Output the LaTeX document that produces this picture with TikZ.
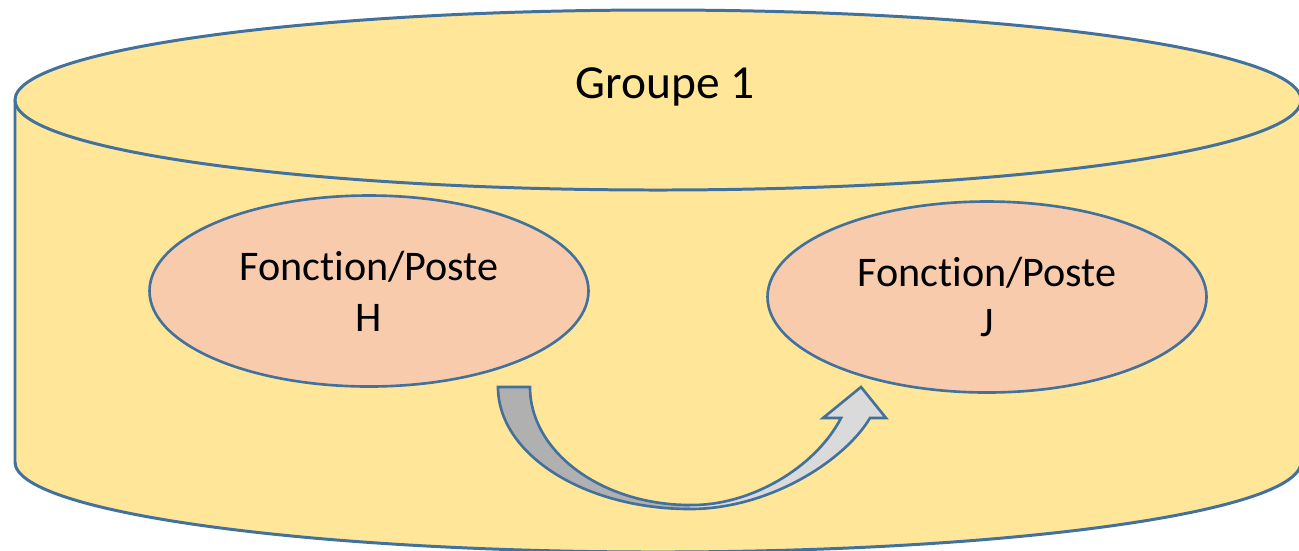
\documentclass[tikz,border=0pt]{standalone}
\usepackage{fontspec}
\setmainfont{Carlito}[Ligatures=NoCommon]
\usetikzlibrary{shapes.geometric, positioning}
\definecolor{grpfill}{HTML}{FFE699}
\definecolor{grpline}{HTML}{41719C}
\definecolor{postefill}{HTML}{F8CBAD}
\definecolor{arrowdark}{HTML}{B0B0B0}
\definecolor{arrowlight}{HTML}{DADADA}

\begin{document}
\begin{tikzpicture}[x=0.1mm, y=-0.1mm,
  poste/.style={ellipse, draw=grpline, line width=0.75pt, fill=postefill,
    inner sep=0pt, minimum width=43.9mm, minimum height=19.1mm, align=center,
    font=\fontsize{12}{14.5}\selectfont}]
  \useasboundingbox (0,0) rectangle (1299,550);
  \clip (0,0) rectangle (1299,550);

  % Cylinder body
  \fill[grpfill] (15,100) -- (15,462)
    arc[start angle=180, end angle=0, x radius=643, y radius=90]
    -- (1301,100)
    arc[start angle=0, end angle=-180, x radius=643, y radius=90] -- cycle;
  \draw[grpline, line width=0.85pt] (15,100) -- (15,462)
    arc[start angle=180, end angle=0, x radius=643, y radius=90]
    -- (1301,100);
  \draw[grpline, line width=0.85pt] (658,100) ellipse[x radius=643, y radius=90];
  \node[font=\fontsize{13.5}{16}\selectfont, anchor=base] (groupe) at (665,98) {Groupe 1};

  % Posts
  \node[poste] (posteH) at (369,291) {Fonction/Poste\\H};
  \node[poste] (posteJ) at (987,297) {Fonction/Poste\\J};

  % Curved arrow from H to J
  \fill[arrowdark] (498,387) -- (530,387)
    .. controls (530,452) and (602,505) .. (690,505)
    -- (690,509)
    .. controls (584,509) and (498,454) .. (498,387) -- cycle;
  \fill[arrowlight] (690,505)
    .. controls (750,506) and (815,468) .. (841,418)
    -- (823,418) -- (861,387) -- (886,418) -- (870,418)
    .. controls (845,460) and (770,509) .. (690,509) -- cycle;
  \draw[grpline, line width=0.75pt, line join=miter] (498,387) -- (530,387)
    .. controls (530,452) and (602,505) .. (690,505)
    .. controls (750,506) and (815,468) .. (841,418)
    -- (823,418) -- (861,387) -- (886,418) -- (870,418)
    .. controls (845,460) and (770,509) .. (690,509)
    .. controls (584,509) and (498,454) .. (498,387) -- cycle;
\end{tikzpicture}
\end{document}
